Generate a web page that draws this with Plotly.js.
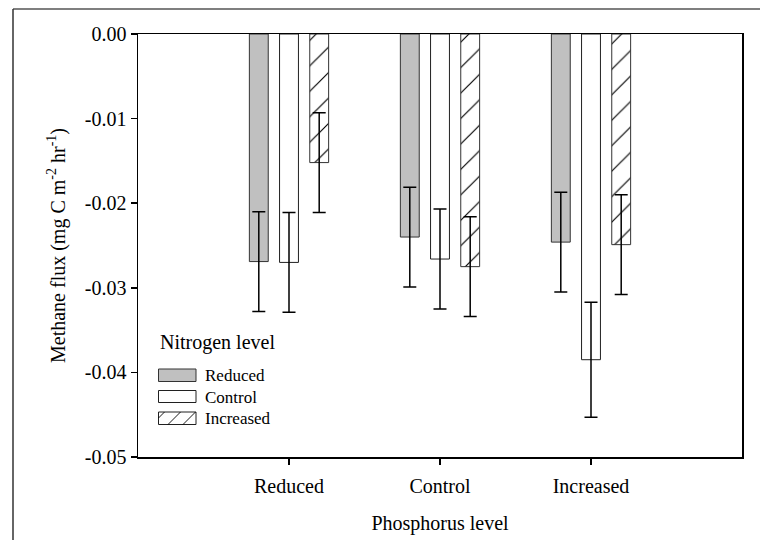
<!DOCTYPE html>
<html>
<head>
<meta charset="utf-8">
<script src="https://cdn.plot.ly/plotly-3.0.1.min.js"></script>
<style>
  html, body { margin: 0; padding: 0; background: #ffffff; }
  #chart { width: 760px; height: 540px; }
</style>
</head>
<body>
<div id="chart"></div>
<script>
// Phosphorus level (x categories)
const categories = ['Reduced', 'Control', 'Increased'];
// Nitrogen level series (methane flux, mg C m-2 hr-1)
const seriesNames = ['Reduced', 'Control', 'Increased'];
const nReduced   = [-0.0269, -0.0240, -0.0246];
const nControl   = [-0.0270, -0.0266, -0.0385];
const nIncreased = [-0.0152, -0.0275, -0.0249];
// Error bar half-lengths
const errReduced   = [0.0059, 0.0059, 0.0059];
const errControl   = [0.0059, 0.0059, 0.0068];
const errIncreased = [0.0059, 0.0059, 0.0059];
const yTickVals = [0, -0.01, -0.02, -0.03, -0.04, -0.05];
const yTickText = ['0.00', '-0.01', '-0.02', '-0.03', '-0.04', '-0.05'];

const FONT = 'Liberation Serif';
const errStyle = (arr) => ({type: 'data', array: arr, visible: true, color: '#000000', thickness: 1.5, width: 6.5});

const traces = [
  {
    type: 'bar', name: seriesNames[0], x: categories, y: nReduced,
    marker: {color: '#c0c0c0', line: {color: '#333333', width: 1}},
    error_y: errStyle(errReduced), showlegend: false
  },
  {
    type: 'bar', name: seriesNames[1], x: categories, y: nControl,
    marker: {color: '#ffffff', line: {color: '#202020', width: 1}},
    error_y: errStyle(errControl), showlegend: false
  },
  {
    type: 'bar', name: seriesNames[2], x: categories, y: nIncreased,
    marker: {color: '#ffffff', line: {color: '#333333', width: 1},
             pattern: {shape: '/', bgcolor: '#ffffff', fgcolor: '#000000', size: 18, solidity: 0.065}},
    error_y: errStyle(errIncreased), showlegend: false
  }
];

// pixel helpers for legend/frame decorations (plot area 138..742 x 34..457)
const px = (v) => (v - 138) / 604;
const py = (v) => (457 - v) / 423;

const shapes = [
  // outer frame (top & left)
  {type: 'line', xref: 'paper', yref: 'paper', x0: px(13), x1: px(760), y0: py(9), y1: py(9), line: {color: '#555555', width: 1.5}},
  {type: 'line', xref: 'paper', yref: 'paper', x0: px(13), x1: px(13), y0: py(9), y1: py(540), line: {color: '#333333', width: 1.5}},
  // legend swatches
  {type: 'rect', xref: 'paper', yref: 'paper', x0: px(158.5), x1: px(196), y0: py(369), y1: py(381.5), fillcolor: '#c0c0c0', line: {color: '#333333', width: 1}},
  {type: 'rect', xref: 'paper', yref: 'paper', x0: px(158.5), x1: px(196), y0: py(390.5), y1: py(402.5), fillcolor: '#ffffff', line: {color: '#202020', width: 1}},
  {type: 'rect', xref: 'paper', yref: 'paper', x0: px(158.5), x1: px(196), y0: py(412), y1: py(424.5), fillcolor: '#ffffff', line: {color: '#202020', width: 1}},
  {type: 'line', xref: 'paper', yref: 'paper', x0: px(158.5), x1: px(164.5), y0: py(418), y1: py(412), line: {color: '#000000', width: 0.9}},
  {type: 'line', xref: 'paper', yref: 'paper', x0: px(168), x1: px(180.5), y0: py(424.5), y1: py(412), line: {color: '#000000', width: 0.9}},
  {type: 'line', xref: 'paper', yref: 'paper', x0: px(183), x1: px(195.5), y0: py(424.5), y1: py(412), line: {color: '#000000', width: 0.9}}
];

const annotations = [
  {xref: 'paper', yref: 'paper', x: px(158), y: py(342), xanchor: 'left', yanchor: 'middle', showarrow: false,
   text: 'Nitrogen level', font: {family: FONT, size: 20, color: '#000000'}},
  {xref: 'paper', yref: 'paper', x: px(203), y: py(375.5), xanchor: 'left', yanchor: 'middle', showarrow: false,
   text: seriesNames[0], font: {family: FONT, size: 17, color: '#000000'}},
  {xref: 'paper', yref: 'paper', x: px(203), y: py(397), xanchor: 'left', yanchor: 'middle', showarrow: false,
   text: seriesNames[1], font: {family: FONT, size: 17, color: '#000000'}},
  {xref: 'paper', yref: 'paper', x: px(203), y: py(418.5), xanchor: 'left', yanchor: 'middle', showarrow: false,
   text: seriesNames[2], font: {family: FONT, size: 17, color: '#000000'}}
];

const layout = {
  width: 760, height: 540,
  margin: {l: 138, r: 18, t: 34, b: 83, pad: 0},
  paper_bgcolor: '#ffffff', plot_bgcolor: '#ffffff',
  font: {family: FONT, color: '#000000', size: 20},
  barmode: 'group', bargap: 0.4, bargroupgap: 0.375,
  showlegend: false,
  xaxis: {
    type: 'category', categoryorder: 'array', categoryarray: categories,
    range: [-1, 3], fixedrange: true,
    showline: true, mirror: true, linecolor: '#000000', linewidth: 1.5,
    ticks: 'outside', ticklen: 6, tickwidth: 1.5, tickcolor: '#000000',
    showgrid: false, zeroline: false, ticklabelstandoff: 4,
    tickfont: {family: FONT, size: 20, color: '#000000'},
    title: {text: 'Phosphorus level', font: {family: FONT, size: 20, color: '#000000'}, standoff: 20}
  },
  yaxis: {
    range: [-0.05, 0], fixedrange: true,
    tickvals: yTickVals, ticktext: yTickText,
    showline: true, mirror: true, linecolor: '#000000', linewidth: 1.5,
    ticks: 'outside', ticklen: 6, tickwidth: 1.5, tickcolor: '#000000',
    showgrid: false, zeroline: false,
    tickfont: {family: FONT, size: 20, color: '#000000'},
    title: {text: 'Methane flux (mg C m<sup>-2</sup> hr<sup>-1</sup>)', font: {family: FONT, size: 20, color: '#000000'}, standoff: 14}
  },
  shapes: shapes,
  annotations: annotations
};

Plotly.newPlot('chart', traces, layout, {displayModeBar: false, staticPlot: true});
</script>
</body>
</html>
